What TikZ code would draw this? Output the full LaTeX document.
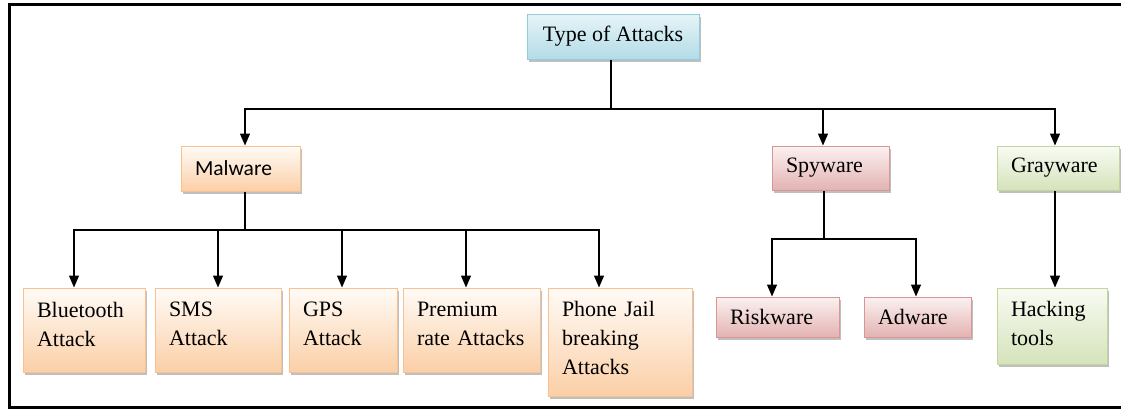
\documentclass[tikz,border=0pt]{standalone}
\usepackage{fontspec}
\setmainfont{Liberation Serif}
\newfontfamily\calibfont{Carlito}
\usetikzlibrary{arrows.meta,shadows}
\definecolor{blueTop}{HTML}{E6F4F8}
\definecolor{blueBot}{HTML}{B3DCE7}
\definecolor{blueLine}{HTML}{93CDDD}
\definecolor{orTop}{HTML}{FFFBF7}
\definecolor{orBot}{HTML}{FBCFA6}
\definecolor{orLine}{HTML}{FAC090}
\definecolor{rdTop}{HTML}{FBF1F1}
\definecolor{rdBot}{HTML}{E3B3B2}
\definecolor{rdLine}{HTML}{D99694}
\definecolor{grTop}{HTML}{F8FBF3}
\definecolor{grBot}{HTML}{D5E3BA}
\definecolor{grLine}{HTML}{C3D69B}
\newcommand\lastdepth[1]{\rule[-#1]{0pt}{0pt}}
\begin{document}
\begin{tikzpicture}[x=1pt,y=-1pt,
  box/.style={draw, line width=1pt, inner xsep=14pt, inner ysep=0pt, align=left,
    font=\fontsize{22}{29}\selectfont,
    drop shadow={shadow xshift=2pt, shadow yshift=-3pt, fill=black, opacity=0.25}},
  bluebox/.style={box, draw=blueLine, top color=blueTop, bottom color=blueBot},
  orbox/.style={box, draw=orLine, top color=orTop, bottom color=orBot},
  rdbox/.style={box, draw=rdLine, top color=rdTop, bottom color=rdBot},
  grbox/.style={box, draw=grLine, top color=grTop, bottom color=grBot},
  conn/.style={draw=black, line width=1.3pt},
  arr/.style={conn, -{Triangle[width=10pt,length=12pt]}}
]
\fill[white] (0,0) rectangle (1121,410);
\useasboundingbox (0,0) rectangle (1121,410);
\draw[line width=3pt] (1121,4.5) -- (9,4.5) -- (9,407.5) -- (1121,407.5);

% nodes
\node[bluebox, minimum width=172pt, minimum height=45pt, align=center] (top) at (613,36.5) {Type of Attacks};
\node[orbox, text width=91pt, minimum height=45pt, font=\calibfont\fontsize{21.5}{26}\selectfont] (mal) at (240.5,168.5) {Malware};
\node[rdbox, text width=89pt, minimum height=44pt] (spy) at (830.5,168) {Spyware};
\node[grbox, text width=94pt, minimum height=44pt] (gray) at (1058,168) {Grayware};

\node[orbox, text width=94pt, minimum height=84pt] (blue) at (84,330) {Bluetooth\\Attack\lastdepth{12pt}};
\node[orbox, text width=98pt, minimum height=84pt] (sms) at (218,330) {SMS\\Attack\lastdepth{12pt}};
\node[orbox, text width=80pt, minimum height=84pt] (gps) at (343,330) {GPS\\Attack\lastdepth{12pt}};
\node[orbox, text width=109pt, minimum height=84pt] (prem) at (471.5,330) {Premium\\rate Attacks\lastdepth{12pt}};
\node[orbox, text width=116pt, minimum height=108pt] (phone) at (620,342) {Phone Jail\\breaking\\Attacks\lastdepth{9pt}};

\node[rdbox, text width=95pt, minimum height=40pt] (risk) at (777.5,317) {Riskware};
\node[rdbox, text width=79pt, minimum height=40pt] (ad) at (917.5,317) {Adware};
\node[grbox, text width=82pt, minimum height=76pt] (hack) at (1052,326) {Hacking\\tools\lastdepth{6pt}};

% junctions
\coordinate (j1) at (611,109);
\coordinate (j2) at (245,230);
\coordinate (j3) at (824,239);

% connectors
\draw[conn] ([xshift=-2pt]top.south) -- (j1);
\draw[arr] (j1) -| ([xshift=4.5pt]mal.north);
\draw[arr] (j1) -| ([xshift=-7.5pt]spy.north);
\draw[arr] (j1) -| ([xshift=-3pt]gray.north);

\draw[conn] ([xshift=4.5pt]mal.south) -- (j2);
\draw[arr] (j2) -| ([xshift=-10pt]blue.north);
\draw[arr] (j2) -| (sms.north);
\draw[arr] (j2) -| ([xshift=-1pt]gps.north);
\draw[arr] (j2) -| ([xshift=-5.5pt]prem.north);
\draw[arr] (j2) -| ([xshift=-21pt]phone.north);

\draw[conn] ([xshift=-6.5pt]spy.south) -- (j3);
\draw[arr] (j3) -| ([xshift=-5.5pt]risk.north);
\draw[arr] (j3) -| ([xshift=-1.5pt]ad.north);

\draw[arr] ([xshift=-3pt]gray.south) -- ([xshift=3pt]hack.north);
\end{tikzpicture}
\end{document}
